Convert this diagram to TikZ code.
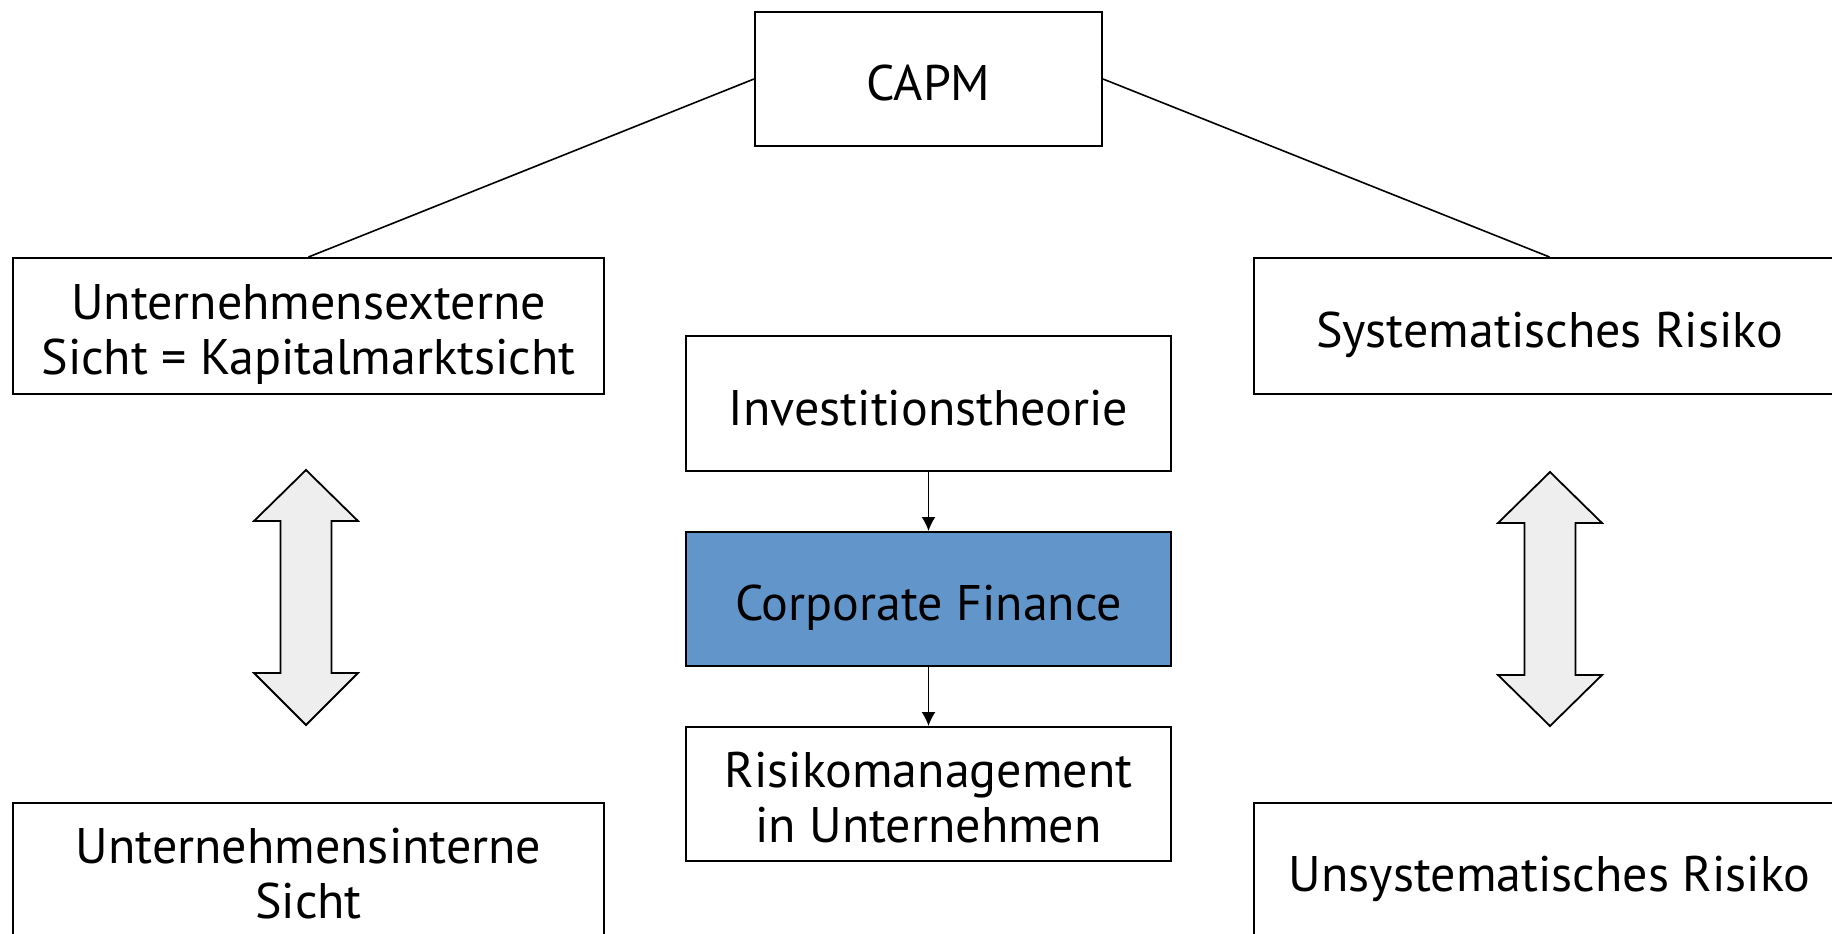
\documentclass[tikz,border=0pt]{standalone}
\usepackage{fontspec}
\setmainfont{PT Sans}
\usetikzlibrary{arrows.meta}
\definecolor{cfblue}{RGB}{98,149,201}
\definecolor{arrowgray}{RGB}{238,238,238}
\tikzset{
  box/.style={draw=black, line width=2pt, fill=white, rectangle, align=center,
    inner sep=0pt, font=\fontsize{50}{55}\selectfont, text depth=11pt,
    execute at begin node={\rule{0pt}{54pt}}},
  twoline/.style={execute at begin node={\rule{0pt}{107pt}}},
  link/.style={draw=black, line width=1.6pt},
  flow/.style={draw=black, line width=1.6pt, -{Latex[length=14pt,width=14pt]}},
  bigarrow/.style={draw=black, line width=1.8pt, fill=arrowgray, line join=miter}
}
\begin{document}
\begin{tikzpicture}[x=1pt,y=-1pt]
\useasboundingbox (0,0) rectangle (1832,934);
\clip (0,0) rectangle (1832,934);
\fill[white] (0,0) rectangle (1832,934);
% boxes
\node[box, minimum width=347pt, minimum height=134pt] (capm) at (928.5,79) {CAPM};
\node[box, twoline, minimum width=591pt, minimum height=136pt] (ext) at (308.5,326) {Unternehmensexterne\\Sicht = Kapitalmarktsicht};
\node[box, minimum width=591pt, minimum height=136pt] (sys) at (1549.5,326) {Systematisches Risiko};
\node[box, minimum width=485pt, minimum height=135pt] (inv) at (928.5,403.5) {Investitionstheorie};
\node[box, minimum width=485pt, minimum height=134pt, fill=cfblue] (cf) at (928.5,599) {Corporate Finance};
\node[box, twoline, minimum width=485pt, minimum height=134pt] (risk) at (928.5,794) {Risikomanagement\\in Unternehmen};
\node[box, twoline, minimum width=591pt, minimum height=134pt] (int) at (308.5,870) {Unternehmensinterne\\Sicht};
\node[box, minimum width=591pt, minimum height=134pt] (unsys) at (1549.5,870) {Unsystematisches Risiko};
% connectors
\draw[link] (capm.west) -- (ext.north);
\draw[link] (capm.east) -- (sys.north);
\draw[flow] (inv.south) -- (cf.north);
\draw[flow] (cf.south) -- (risk.north);
% double arrows
\draw[bigarrow] (306,470) -- (358,521) -- (331.5,521) -- (331.5,673) -- (358,673) -- (306,725)
  -- (254,673) -- (280.5,673) -- (280.5,521) -- (254,521) -- cycle;
\draw[bigarrow] (1550,472) -- (1602,523) -- (1575.5,523) -- (1575.5,675) -- (1602,675) -- (1550,726)
  -- (1498,675) -- (1524.5,675) -- (1524.5,523) -- (1498,523) -- cycle;
\end{tikzpicture}
\end{document}
